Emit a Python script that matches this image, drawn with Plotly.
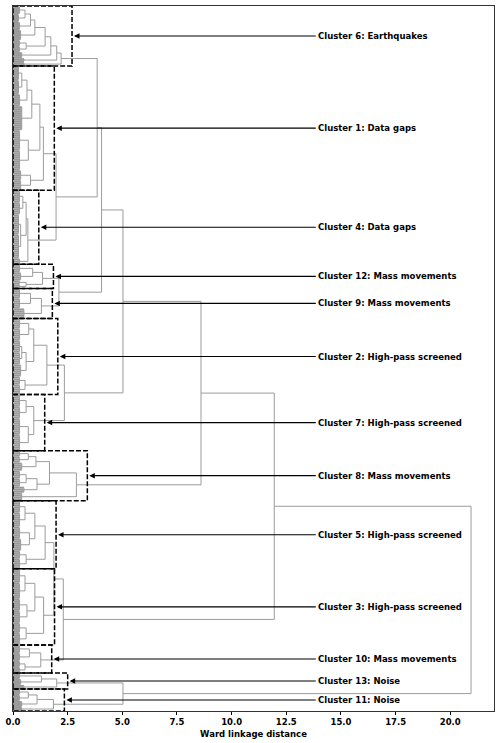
import plotly.graph_objects as go

# ---------------- data ----------------
# sub-tree of each cluster: internal node = [merge height, left, right]
# leaf bundle = (merge height, number of leaves)
C6 = [2.2, [2.0, [1.73, [1.47, [1.0, [0.8, [0.55, (0.3, 4), (0.25, 4)], (0.3, 4)], (0.35, 5)],
                        [0.6, (0.3, 3), (0.3, 3)]], (0.4, 3)], (0.5, 2)], (0.5, 2)]
C1 = [1.39, [1.23, [0.86, [0.64, [0.4, (0.25, 7), (0.25, 7)], (0.3, 6)], (0.4, 12)],
             [0.7, (0.3, 10), (0.3, 10)]], [0.8, (0.35, 5), (0.35, 5)]]
C4 = [0.68, [0.6, [0.45, (0.3, 6), (0.3, 6)], [0.35, (0.25, 10), (0.25, 12)]], (0.3, 3)]
C12 = [1.35, [0.9, (0.3, 4), (0.35, 4)], [0.6, (0.3, 2), (0.3, 2)]]
C9 = [1.3, [0.8, (0.3, 5), (0.3, 5)], (0.5, 5)]
C2 = [1.55, [0.95, [0.72, (0.3, 5), (0.3, 6)], [0.6, [0.4, (0.3, 6), (0.3, 6)], (0.35, 6)]],
      [0.55, (0.3, 4), (0.3, 5)]]
C7 = [0.95, [0.6, (0.3, 6), (0.3, 6)], [0.7, (0.3, 8), (0.3, 8)]]
C8 = [2.9, [1.67, [1.05, [0.7, (0.3, 3), (0.3, 3)], (0.4, 4)],
            [1.1, [0.6, (0.3, 4), (0.3, 4)], (0.5, 3)]], (0.4, 4)]
C5 = [1.47, [1.0, [0.55, (0.3, 6), (0.3, 7)], [0.75, (0.3, 6), (0.35, 6)]],
      [0.6, (0.3, 4), (0.3, 5)]]
C3 = [1.4, [1.0, [0.55, (0.3, 7), (0.3, 8)], [0.64, (0.3, 6), (0.3, 6)]],
      [0.6, (0.3, 5), (0.3, 6)]]
C10 = [1.27, [0.75, (0.3, 4), (0.3, 4)], [0.55, (0.3, 3), (0.3, 3)]]
C13 = [2.0, [1.3, (0.3, 3), (0.35, 3)], (0.5, 2)]
C11 = [1.85, [1.1, [0.7, (0.3, 3), (0.3, 3)], (0.4, 3)], (0.4, 2)]

# upper part of the tree, joining the clusters (cluster ids as strings)
TOP = [20.95,
       [11.95,
        [8.6,
         [5.03,
          [4.05, [3.85, "6", [1.97, "1", "4"]], [2.1, "12", "9"]],
          [2.35, "2", "7"]],
         "8"],
        [2.3, [1.87, "5", "3"], "10"]],
       [5.03, "13", "11"]]

CLUSTER_TREES = {"6": C6, "1": C1, "4": C4, "12": C12, "9": C9, "2": C2, "7": C7,
                 "8": C8, "5": C5, "3": C3, "10": C10, "13": C13, "11": C11}
CLUSTER_CLASSES = {"6": "Earthquakes", "1": "Data gaps", "4": "Data gaps",
                   "12": "Mass movements", "9": "Mass movements",
                   "2": "High-pass screened", "7": "High-pass screened",
                   "8": "Mass movements", "5": "High-pass screened",
                   "3": "High-pass screened", "10": "Mass movements",
                   "13": "Noise", "11": "Noise"}
X_TICKS = [0.0, 2.5, 5.0, 7.5, 10.0, 12.5, 15.0, 17.5, 20.0]

# ---------------- style ----------------
BOX_PAD = 0.5
LABEL_X = 13.85
LINE_COLOR = "#9c9c9c"
LEAF_COLOR = "#9a9a9a"
FONT = "DejaVu Sans"

xs, ys = [], []          # branch lines
lx, ly = [], []          # leaf lines
clusters = []  # (id, first leaf, last leaf, root height)


def seg(points, X=None, Y=None):
    X = xs if X is None else X
    Y = ys if Y is None else Y
    for px, py in points:
        X.append(px)
        Y.append(py)
    X.append(None)
    Y.append(None)


def layout(node, start):
    """returns (height, y position, leaves used)"""
    if isinstance(node, str):
        h, y, n = layout(CLUSTER_TREES[node], start)
        clusters.append((node, start, start + n, h))
        return h, y, n
    if isinstance(node, tuple):
        h, n = node
        centers = [start + i + 0.5 for i in range(n)]
        for c in centers:
            seg([(0, c), (h, c)], lx, ly)
        seg([(h, centers[0]), (h, centers[-1])])
        return h, sum(centers) / n, n
    h, left, right = node
    h1, y1, n1 = layout(left, start)
    h2, y2, n2 = layout(right, start + n1)
    seg([(h1, y1), (h, y1), (h, y2), (h2, y2)])
    return h, (y1 + y2) / 2, n1 + n2


_, _, N = layout(TOP, 0)

fig = go.Figure()
fig.add_trace(go.Scatter(x=lx, y=ly, mode="lines",
                         line=dict(color=LEAF_COLOR, width=2),
                         hoverinfo="skip", showlegend=False))
fig.add_trace(go.Scatter(x=xs, y=ys, mode="lines",
                         line=dict(color=LINE_COLOR, width=1),
                         hoverinfo="skip", showlegend=False))

for cid, a, b, h in clusters:
    edge = h + BOX_PAD
    fig.add_shape(type="rect", xref="x", yref="y", x0=0, x1=edge, y0=a, y1=b,
                  line=dict(color="black", width=1.5, dash="5px,2px"),
                  fillcolor="rgba(0,0,0,0)", layer="above")
    mid = (a + b) / 2
    fig.add_annotation(x=edge, y=mid, xref="x", yref="y",
                       ax=LABEL_X, ay=mid, axref="x", ayref="y",
                       text="<b>Cluster %s: %s</b>" % (cid, CLUSTER_CLASSES[cid]),
                       xanchor="left", yanchor="middle",
                       showarrow=True, arrowhead=2, arrowsize=1, arrowwidth=1.1,
                       arrowcolor="black", standoff=2,
                       font=dict(family=FONT, size=8.5, color="black"))

fig.update_layout(
    width=500, height=743,
    margin=dict(l=11, r=5, t=5, b=32),
    plot_bgcolor="white", paper_bgcolor="white",
    font=dict(family=FONT, size=8.5, color="black"),
    xaxis=dict(range=[0, 22], tickvals=X_TICKS,
               ticktext=["%.1f" % v for v in X_TICKS],
               tickfont=dict(family=FONT, size=8.5, weight="bold", color="black"),
               ticks="outside", ticklen=3, tickcolor="black",
               showline=True, linecolor="#333333", linewidth=1, mirror=True,
               showgrid=False, zeroline=False,
               title=dict(text="<b>Ward linkage distance</b>", standoff=4,
                          font=dict(family=FONT, size=8.5, color="black"))),
    yaxis=dict(range=[N, 0], showticklabels=False, ticks="",
               showline=True, linecolor="#333333", linewidth=1, mirror=True,
               showgrid=False, zeroline=False),
)

fig.write_html("out.html")
